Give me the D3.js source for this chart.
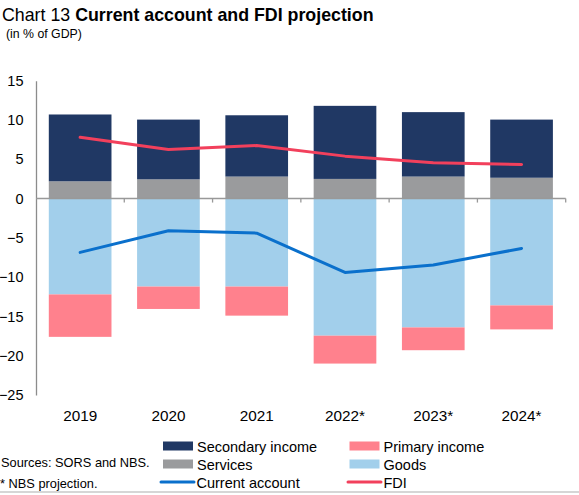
<!DOCTYPE html>
<html><head><meta charset="utf-8">
<script src="https://cdn.jsdelivr.net/npm/d3@7"></script>
<style>
body{margin:0;background:#fff;}
text{font-family:"Liberation Sans",Arial,sans-serif;fill:#000;}
</style></head>
<body><svg id="c" width="579" height="495"></svg>
<script>
const categories = ["2019","2020","2021","2022*","2023*","2024*"];
const secondaryIncome = [8.5, 7.6, 7.8, 9.3, 8.2, 7.4];
const services = [2.2, 2.45, 2.8, 2.5, 2.8, 2.65];
const goods = [-12.2, -11.2, -11.2, -17.45, -16.4, -13.6];
const primaryIncome = [-5.4, -2.85, -3.7, -3.55, -2.9, -3.05];
const currentAccount = [-6.85, -4.1, -4.4, -9.4, -8.45, -6.35];
const fdi = [7.8, 6.25, 6.75, 5.4, 4.55, 4.35];
const yTicks = [15, 10, 5, 0, -5, -10, -15, -20, -25];

const colors = {sec:"#203864", serv:"#9a9b9d", goods:"#a2cfeb", prim:"#ff818d", ca:"#0a70cc", fdi:"#f2405c"};

const svg = d3.select("#c");
const x = d3.scaleBand().domain(categories).range([36, 565.7]).paddingInner(0.29).paddingOuter(0.145);
const y = d3.scaleLinear().domain([-25, 15]).range([395, 80.7]);

// title
const t = svg.append("text").attr("x", 2).attr("y", 21).style("font-size", "17.8px");
t.append("tspan").text("Chart 13 ");
t.append("tspan").style("font-weight", "bold").text("Current account and FDI projection");
svg.append("text").attr("x", 6).attr("y", 38).style("font-size", "12.3px").text("(in % of GDP)");

// bars
const rows = categories.map((c, i) => ({c, serv: services[i], sec: secondaryIncome[i], goods: goods[i], prim: primaryIncome[i]}));
const g = svg.append("g");
rows.forEach(d => {
  const segs = [
    {y0: 0, y1: d.serv, col: colors.serv},
    {y0: d.serv, y1: d.serv + d.sec, col: colors.sec},
    {y0: 0, y1: d.goods, col: colors.goods},
    {y0: d.goods, y1: d.goods + d.prim, col: colors.prim}
  ];
  segs.forEach(s => {
    g.append("rect")
      .attr("x", x(d.c)).attr("width", x.bandwidth())
      .attr("y", y(Math.max(s.y0, s.y1)))
      .attr("height", Math.abs(y(s.y0) - y(s.y1)))
      .attr("fill", s.col);
  });
});

// y axis
const yAxis = svg.append("g").attr("transform", "translate(36,0)")
  .call(d3.axisLeft(y).tickValues(yTicks).tickSize(0).tickPadding(12.5).tickFormat(d3.format("d")));
yAxis.select(".domain").attr("stroke", "#8c8c8c").attr("stroke-width", 1.3);
yAxis.selectAll("text").style("font-size", "14.5px").attr("fill", "#000");

// x axis at zero
const step = x.step();
const xAxisG = svg.append("g");
xAxisG.append("line").attr("x1", 36).attr("x2", 565.7).attr("y1", y(0)).attr("y2", y(0))
  .attr("stroke", "#999").attr("stroke-width", 1.5);
categories.forEach((c, i) => {
  const bx = x(c) + x.bandwidth() / 2 + step / 2;
  xAxisG.append("line").attr("x1", bx).attr("x2", bx).attr("y1", y(0)).attr("y2", y(0) + 4)
    .attr("stroke", "#999").attr("stroke-width", 1.3);
});
svg.append("g").selectAll("text").data(categories).join("text")
  .attr("x", d => x(d) + x.bandwidth() / 2).attr("y", 421)
  .attr("text-anchor", "middle").style("font-size", "15.3px").text(d => d);

// lines
const line = d3.line().x((d, i) => x(categories[i]) + x.bandwidth() / 2).y(d => y(d));
svg.append("path").datum(fdi).attr("d", line).attr("fill", "none").attr("stroke", colors.fdi).attr("stroke-width", 3).attr("stroke-linecap", "round").attr("stroke-linejoin", "round");
svg.append("path").datum(currentAccount).attr("d", line).attr("fill", "none").attr("stroke", colors.ca).attr("stroke-width", 3).attr("stroke-linecap", "round").attr("stroke-linejoin", "round");

// notes
svg.append("text").attr("x", 1).attr("y", 467).style("font-size", "12.8px").text("Sources: SORS and NBS.");
svg.append("text").attr("x", 0).attr("y", 488).style("font-size", "12.8px").text("* NBS projection.");

// legend
const legend = [
  {name: "Secondary income", col: colors.sec, type: "rect", cx: 163, cy: 446},
  {name: "Primary income", col: colors.prim, type: "rect", cx: 349.5, cy: 446},
  {name: "Services", col: colors.serv, type: "rect", cx: 163, cy: 464},
  {name: "Goods", col: colors.goods, type: "rect", cx: 349.5, cy: 464},
  {name: "Current account", col: colors.ca, type: "line", cx: 161, cy: 482},
  {name: "FDI", col: colors.fdi, type: "line", cx: 348, cy: 482}
];
legend.forEach(l => {
  if (l.type === "rect") {
    svg.append("rect").attr("x", l.cx).attr("y", l.cy - 4.5).attr("width", 30).attr("height", 9).attr("fill", l.col);
  } else {
    svg.append("line").attr("x1", l.cx).attr("x2", l.cx + 33).attr("y1", l.cy).attr("y2", l.cy)
      .attr("stroke", l.col).attr("stroke-width", 3).attr("stroke-linecap", "round");
  }
  svg.append("text").attr("x", l.type === "rect" ? l.cx + 34 : l.cx + 35.5).attr("y", l.cy + 5.5)
    .style("font-size", "14.5px").text(l.name);
});

// bottom rule
svg.append("line").attr("x1", 0).attr("x2", 579).attr("y1", 492).attr("y2", 492).attr("stroke", "#c8c8c8").attr("stroke-width", 1.5);
</script></body></html>
